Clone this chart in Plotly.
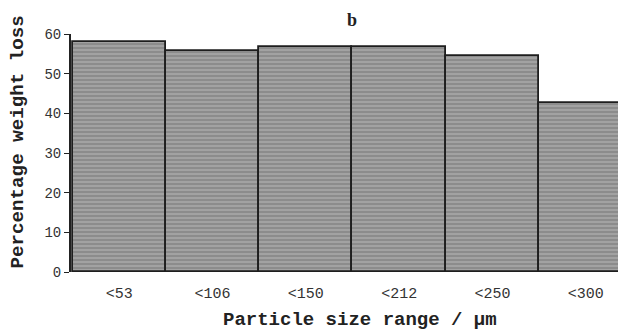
import plotly.graph_objects as go

categories = ["<53", "<106", "<150", "<212", "<250", "<300"]
weight_loss = [58.1, 55.6, 56.7, 56.7, 54.4, 42.5]
y_ticks = [0, 10, 20, 30, 40, 50, 60]

mono = "Liberation Mono, Courier New, monospace"

# page body has an 8px margin, so figure coords = reference coords - 8
L, T, B = 63, 26, 64
W, H = 618, 328
PW, PH = W - L, H - T - B


def px(xr):
    return (xr - 8 - L) / PW


def py(yr):
    return (H - B - (yr - 8)) / PH


fig = go.Figure(go.Bar(
    x=list(range(len(categories))),
    y=weight_loss,
    width=1.0,
    marker=dict(
        color="#959595",
        line=dict(color="#1e1e1e", width=1.8),
        pattern=dict(shape="-", fgcolor="#6c6c6c", bgcolor="#a2a2a2", size=4, solidity=0.4),
    ),
))

fig.update_layout(
    width=W, height=H,
    margin=dict(l=L, r=0, t=T, b=B, autoexpand=False),
    paper_bgcolor="white", plot_bgcolor="white",
    showlegend=False,
    bargap=0,
    font=dict(family=mono, color="#222"),
    annotations=[
        dict(text="<b>b</b>", xref="paper", yref="paper", x=px(352), y=py(20),
             xanchor="center", yanchor="middle", showarrow=False,
             font=dict(family="Liberation Serif, serif", size=18, color="#222")),
        dict(text="<b>Percentage weight loss</b>", xref="paper", yref="paper",
             x=px(17), y=py(271), textangle=-90,
             xanchor="center", yanchor="bottom", showarrow=False,
             font=dict(family=mono, size=19.2, color="#222")),
        dict(text="<b>Particle size range / µm</b>", xref="paper", yref="paper",
             x=px(360), y=py(320),
             xanchor="center", yanchor="middle", showarrow=False,
             font=dict(family=mono, size=19, color="#222")),
    ],
)
fig.update_xaxes(
    range=[-0.517, -0.517 + PW / 93.3], automargin=False,
    tickmode="array", tickvals=list(range(len(categories))), ticktext=categories,
    showgrid=False, zeroline=False, showline=False,
    ticks="", ticklabelstandoff=10,
    tickfont=dict(family=mono, size=15, color="#333"),
)
fig.update_yaxes(
    range=[0, 60], automargin=False,
    tickmode="array", tickvals=y_ticks,
    showgrid=False, zeroline=False,
    showline=True, linecolor="#222", linewidth=2,
    ticks="outside", ticklen=5, tickcolor="#222",
    tickfont=dict(family=mono, size=14, color="#333"),
)

fig.write_html("out.html")
